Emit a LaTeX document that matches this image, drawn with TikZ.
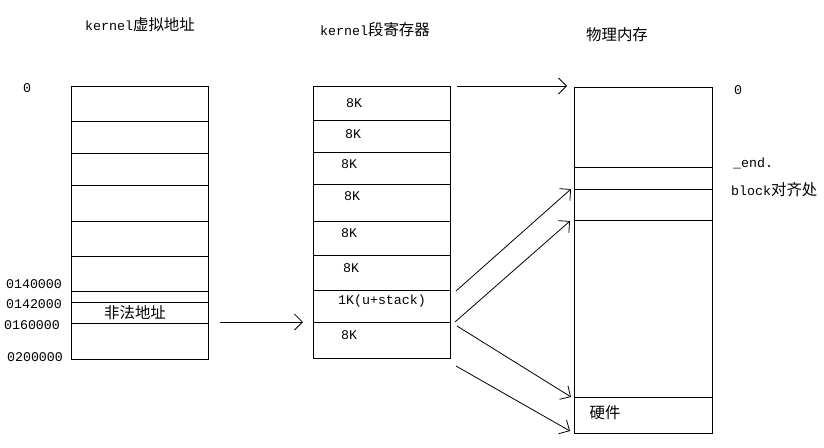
\documentclass[tikz,border=0pt]{standalone}
\usepackage{fontspec}
\setmainfont{Liberation Mono}
\newfontfamily\cjk{Noto Sans CJK SC}[Scale=1.16]
\usetikzlibrary{arrows.meta}
\begin{document}
\begin{tikzpicture}[x=1pt,y=-1pt,
  cell/.style={draw, line width=1pt, anchor=north west, inner sep=0pt, outer sep=0pt},
  lbl/.style={inner sep=0pt, font=\fontsize{13.3}{15}\selectfont},
  arr/.style={-{Straight Barb[length=8pt,width=16pt]}, line width=0.8pt}]
\useasboundingbox (0,0) rectangle (824,447);
% titles
\node[lbl] (t1) at (140,25) {kernel{\cjk 虚拟地址}};
\node[lbl] (t2) at (375,30) {kernel{\cjk 段寄存器}};
\node[lbl] (t3) at (617,35) {{\cjk 物理内存}};
% left box
\foreach \n/\a/\b in {L1/86/121, L2/121/153, L3/153/185, L4/185/221, L5/221/256, L6/256/291, L7/291/302, L8/302/323, L9/323/359}{
  \node[cell, minimum width=137pt, minimum height={(\b-\a)*1pt}] (\n) at (71,\a) {};
}
% middle box
\foreach \n/\a/\b in {M1/86/120, M2/120/152, M3/152/184, M4/184/221, M5/221/255, M6/255/290, M7/290/322, M8/322/358}{
  \node[cell, minimum width=137pt, minimum height={(\b-\a)*1pt}] (\n) at (313,\a) {};
}
% right box
\foreach \n/\a/\b in {R1/87/167, R2/167/189, R3/189/220, R4/220/397, R5/397/433}{
  \node[cell, minimum width=138pt, minimum height={(\b-\a)*1pt}] (\n) at (574,\a) {};
}
% left labels
\node[lbl] (a0) at (27,88) {0};
\node[lbl] (a1) at (34,284) {0140000};
\node[lbl] (a2) at (34,304) {0142000};
\node[lbl] (a3) at (32,325) {0160000};
\node[lbl] (a4) at (35,357) {0200000};
\node[lbl] (ill) at (135,313) {{\cjk 非法地址}};
% middle labels
\node[lbl] (k1) at (354,103) {8K};
\node[lbl] (k2) at (353,134) {8K};
\node[lbl] (k3) at (349,164) {8K};
\node[lbl] (k4) at (352,196) {8K};
\node[lbl] (k5) at (349,233) {8K};
\node[lbl] (k6) at (351,268) {8K};
\node[lbl] (k7) at (382,301) {1K(u+stack)};
\node[lbl] (k8) at (349,335) {8K};
% right labels
\node[lbl] (p0) at (738,90) {0};
\node[lbl, anchor=west] (pend) at (733,163) {\_end.};
\node[lbl, anchor=west] (pblk) at (731,190) {block{\cjk 对齐处}};
\node[lbl] (hw) at (605,413) {{\cjk 硬件}};
% arrow endpoints
\coordinate (s1) at (220,322);  \coordinate (e1) at (303,322);
\coordinate (s2) at (457,86);   \coordinate (e2) at (567,86);
\coordinate (s3) at (456,291);  \coordinate (e3) at (571,189);
\coordinate (s4) at (455,322);  \coordinate (e4) at (570,221);
\coordinate (s5) at (457,326);  \coordinate (e5) at (571,397);
\coordinate (s6) at (456,366);  \coordinate (e6) at (570,431);
\draw[arr] (s1) -- (e1);
\draw[arr] (s2) -- (e2);
\draw[arr] (s3) -- (e3);
\draw[arr] (s4) -- (e4);
\draw[arr] (s5) -- (e5);
\draw[arr] (s6) -- (e6);
\end{tikzpicture}
\end{document}
